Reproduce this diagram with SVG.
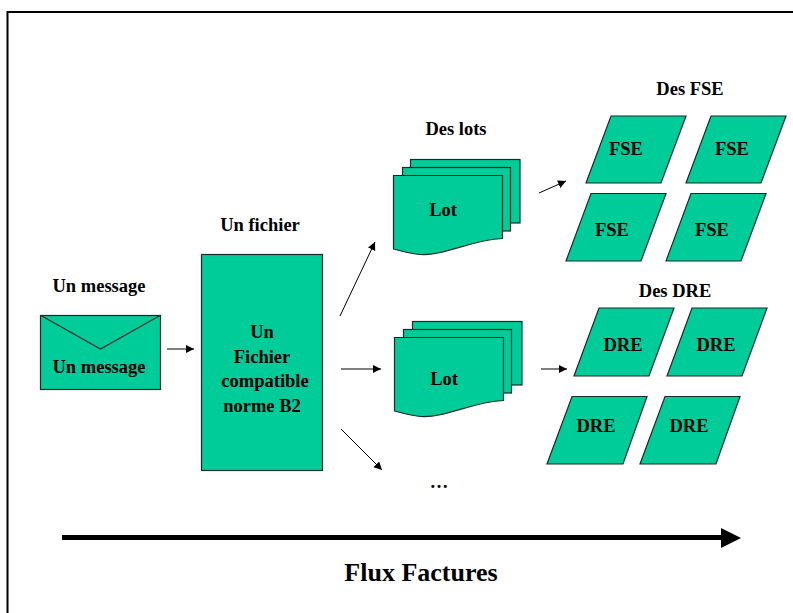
<svg xmlns="http://www.w3.org/2000/svg" width="793" height="613" viewBox="0 0 793 613">
<style>
.s{fill:#00cc99;stroke:#1a2a2a;stroke-width:1.2}
.t{font-family:"Liberation Serif","Times New Roman",serif;font-weight:bold;font-size:18.5px;fill:#000;text-anchor:middle}
.c{stroke:#000;stroke-width:1;fill:none;marker-end:url(#a)}
</style>
<defs>
<marker id="a" markerUnits="userSpaceOnUse" markerWidth="10" markerHeight="10" refX="8" refY="4" orient="auto"><path d="M0 0L8 4L0 8Z" fill="#000"/></marker>
</defs>
<rect width="793" height="613" fill="#fff"/>
<path d="M7.5 613V12H793" fill="none" stroke="#000" stroke-width="2"/>
<g id="connectors">
<path class="c" d="M167 349H194"/>
<path class="c" d="M340 316L375 242"/>
<path class="c" d="M341 369H381"/>
<path class="c" d="M341 429L382 470"/>
<path class="c" d="M539 193L566 181"/>
<path class="c" d="M541 369H567"/>
<path d="M62 537.500H724" stroke="#000" stroke-width="5"/>
<path d="M721 528L741 538L721 548Z" fill="#000"/>
</g>
<g id="label-message"><text class="t" x="99" y="292">Un message</text></g>
<g id="node-message">
<rect class="s" x="40.500" y="315.500" width="120" height="74"/>
<path d="M41 315.500L100.500 349L160 315.500" fill="none" stroke="#1a2a2a" stroke-width="1.200"/>
<text class="t" x="99" y="373">Un message</text>
</g>
<g id="label-fichier"><text class="t" x="260" y="231">Un fichier</text></g>
<g id="node-fichier">
<rect class="s" x="201.500" y="254.500" width="121" height="216"/>
<text class="t" x="262" y="338">Un</text>
<text class="t" x="262" y="363">Fichier</text>
<text class="t" x="265" y="387">compatible</text>
<text class="t" x="262" y="412">norme B2</text>
</g>
<g id="label-lots"><text class="t" x="456" y="135">Des lots</text></g>
<g id="node-lot1">
<rect class="s" x="410.500" y="159.500" width="109.500" height="63.500"/>
<rect class="s" x="402.500" y="167.500" width="108" height="63.500"/>
<path class="s" d="M393.500 175.500H502.500V238.500C470 240 445 256 420 254.500C410 254 402 251 393.500 249Z"/>
<text class="t" x="443" y="216">Lot</text>
</g>
<g id="node-lot2">
<rect class="s" x="412.500" y="321.500" width="109.500" height="63.500"/>
<rect class="s" x="403.500" y="329.500" width="108" height="63.500"/>
<path class="s" d="M394.500 337.500H503.500V400.500C471 402 446 418 421 416.500C411 416 403 413 394.500 411Z"/>
<text class="t" x="444" y="385">Lot</text>
</g>
<g id="label-ellipsis"><text class="t" x="439" y="488">…</text></g>
<g id="label-fse"><text class="t" x="690" y="95">Des FSE</text></g>
<g id="node-fse1"><path class="s" d="M611 116H686L661 183H586Z"/><text class="t" x="626" y="155">FSE</text></g>
<g id="node-fse2"><path class="s" d="M711 116H786L761 183H686Z"/><text class="t" x="732" y="155">FSE</text></g>
<g id="node-fse3"><path class="s" d="M591 193.500H666L641 261H566Z"/><text class="t" x="612" y="236">FSE</text></g>
<g id="node-fse4"><path class="s" d="M691 193.500H766L741 261H666Z"/><text class="t" x="712" y="236">FSE</text></g>
<g id="label-dre"><text class="t" x="675" y="297">Des DRE</text></g>
<g id="node-dre1"><path class="s" d="M599 308H674L649 376H574Z"/><text class="t" x="623" y="351">DRE</text></g>
<g id="node-dre2"><path class="s" d="M692 308H767L742 376H667Z"/><text class="t" x="716" y="351">DRE</text></g>
<g id="node-dre3"><path class="s" d="M572 396.500H647L623 464H547Z"/><text class="t" x="596" y="432">DRE</text></g>
<g id="node-dre4"><path class="s" d="M665 396.500H740L716 464H640Z"/><text class="t" x="689" y="432">DRE</text></g>
<g id="label-flux"><text class="t" x="421" y="581" style="font-size:26px">Flux Factures</text></g>
</svg>
